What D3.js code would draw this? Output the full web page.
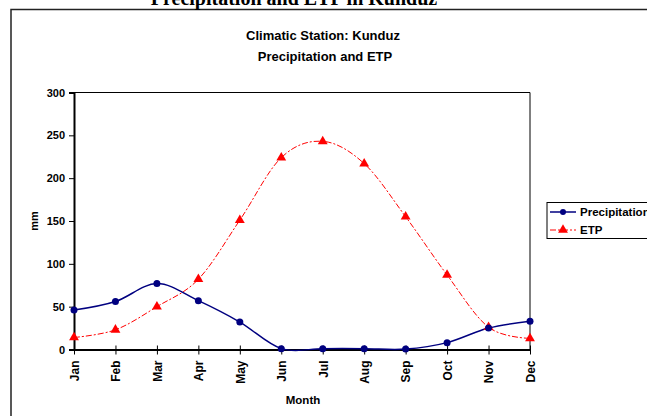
<!DOCTYPE html>
<html>
<head>
<meta charset="utf-8">
<script src="https://cdn.jsdelivr.net/npm/d3@7"></script>
<style>
  body { margin: 0; background: #fff; }
  text { font-family: "Liberation Sans", Arial, sans-serif; font-weight: bold; }
</style>
</head>
<body>
<div id="chart"></div>
<script>
const months = ["Jan", "Feb", "Mar", "Apr", "May", "Jun", "Jul", "Aug", "Sep", "Oct", "Nov", "Dec"];
const precipitation = [46, 56, 77, 57, 32, 1, 1, 1, 0.5, 8, 25, 33];
const etp = [14, 23, 50, 82, 151, 224, 243, 217, 155, 87, 26, 13];
const yTicks = [0, 50, 100, 150, 200, 250, 300];

var width = 647, height = 416;
var plot = { left: 74, right: 530, top: 92.5, bottom: 349.5 };

var svg = d3.select("#chart").append("svg")
    .attr("width", width)
    .attr("height", height);

// marco del grafico
svg.append("rect")
    .attr("x", 11).attr("y", 9.5)
    .attr("width", 800).attr("height", 600)
    .attr("fill", "none")
    .attr("stroke", "#222")
    .attr("stroke-width", 1.5);

svg.append("text")
    .attr("x", 294).attr("y", 5)
    .attr("text-anchor", "middle")
    .style("font-family", "'Liberation Serif', 'Times New Roman', serif")
    .style("font-size", "20px")
    .text("Precipitation and ETP  in Kunduz");

svg.append("text")
    .attr("x", 323).attr("y", 40)
    .attr("text-anchor", "middle")
    .style("font-size", "13px")
    .text("Climatic Station: Kunduz");

svg.append("text")
    .attr("x", 325).attr("y", 61)
    .attr("text-anchor", "middle")
    .style("font-size", "13px")
    .text("Precipitation and ETP");

var x = d3.scalePoint().domain(months).range([plot.left, plot.right]);
var y = d3.scaleLinear().domain([0, 300]).range([plot.bottom, plot.top]);

// borde superior y derecho
svg.append("path")
    .attr("d", `M${plot.left},${plot.top}H${plot.right}V${plot.bottom}`)
    .attr("fill", "none")
    .attr("stroke", "#000")
    .attr("stroke-width", 1);

var yAxis = svg.append("g")
    .attr("transform", `translate(${plot.left},0)`)
    .call(d3.axisLeft(y).tickValues(yTicks).tickSize(5).tickPadding(4));
yAxis.select(".domain").attr("stroke-width", 2);
yAxis.selectAll("text").style("font-size", "11px").style("font-family", null);

var xAxis = svg.append("g")
    .attr("transform", `translate(0,${plot.bottom})`)
    .call(d3.axisBottom(x).tickSizeInner(5).tickSizeOuter(0).tickPadding(0));
xAxis.select(".domain").attr("stroke-width", 2);
xAxis.selectAll(".tick line").attr("y1", -4);
xAxis.selectAll("text")
    .style("font-size", "12px")
    .style("font-family", null)
    .attr("text-anchor", "end")
    .attr("transform", "rotate(-90)")
    .attr("x", -11)
    .attr("y", 0)
    .attr("dy", "0.36em");

svg.append("text")
    .attr("transform", "translate(38,221) rotate(-90)")
    .attr("text-anchor", "middle")
    .style("font-size", "11px")
    .text("mm");

svg.append("text")
    .attr("x", 303).attr("y", 404)
    .attr("text-anchor", "middle")
    .style("font-size", "11.5px")
    .text("Month");

var line = d3.line()
    .x((d, i) => x(months[i]))
    .y(d => y(d))
    .curve(d3.curveCardinal.tension(0));

svg.append("path")
    .datum(etp)
    .attr("d", line)
    .attr("fill", "none")
    .attr("stroke", "#ff0000")
    .attr("stroke-width", 1)
    .attr("stroke-dasharray", "6,2,2,2");

svg.append("path")
    .datum(precipitation)
    .attr("d", line)
    .attr("fill", "none")
    .attr("stroke", "#000080")
    .attr("stroke-width", 1.5);

var tri = d3.symbol().type(d3.symbolTriangle).size(42);

svg.selectAll(".etp")
    .data(etp)
    .enter().append("path")
    .attr("class", "etp")
    .attr("transform", (d, i) => `translate(${x(months[i])},${y(d)})`)
    .attr("d", tri)
    .attr("fill", "#ff0000");

svg.selectAll(".prec")
    .data(precipitation)
    .enter().append("circle")
    .attr("class", "prec")
    .attr("cx", (d, i) => x(months[i]))
    .attr("cy", d => y(d))
    .attr("r", 3.5)
    .attr("fill", "#000080");

// leyenda
var legend = svg.append("g").attr("transform", "translate(547,202.5)");
legend.append("rect")
    .attr("width", 200).attr("height", 36)
    .attr("fill", "#fff")
    .attr("stroke", "#000")
    .attr("stroke-width", 1);

var items = [
    { name: "Precipitation", color: "#000080", dash: null, marker: "circle" },
    { name: "ETP", color: "#ff0000", dash: "6,2,2,2", marker: "triangle" }
];

items.forEach((it, i) => {
    var yy = 9.5 + i * 18;
    legend.append("line")
        .attr("x1", 3).attr("x2", 29)
        .attr("y1", yy).attr("y2", yy)
        .attr("stroke", it.color)
        .attr("stroke-width", it.marker === "circle" ? 1.5 : 1)
        .attr("stroke-dasharray", it.dash);
    if (it.marker === "circle") {
        legend.append("circle").attr("cx", 16).attr("cy", yy).attr("r", 3).attr("fill", it.color);
    } else {
        legend.append("path").attr("transform", `translate(16,${yy})`).attr("d", tri).attr("fill", it.color);
    }
    legend.append("text")
        .attr("x", 33).attr("y", yy)
        .attr("dy", "0.36em")
        .style("font-size", "11.5px")
        .text(it.name);
});
</script>
</body>
</html>
